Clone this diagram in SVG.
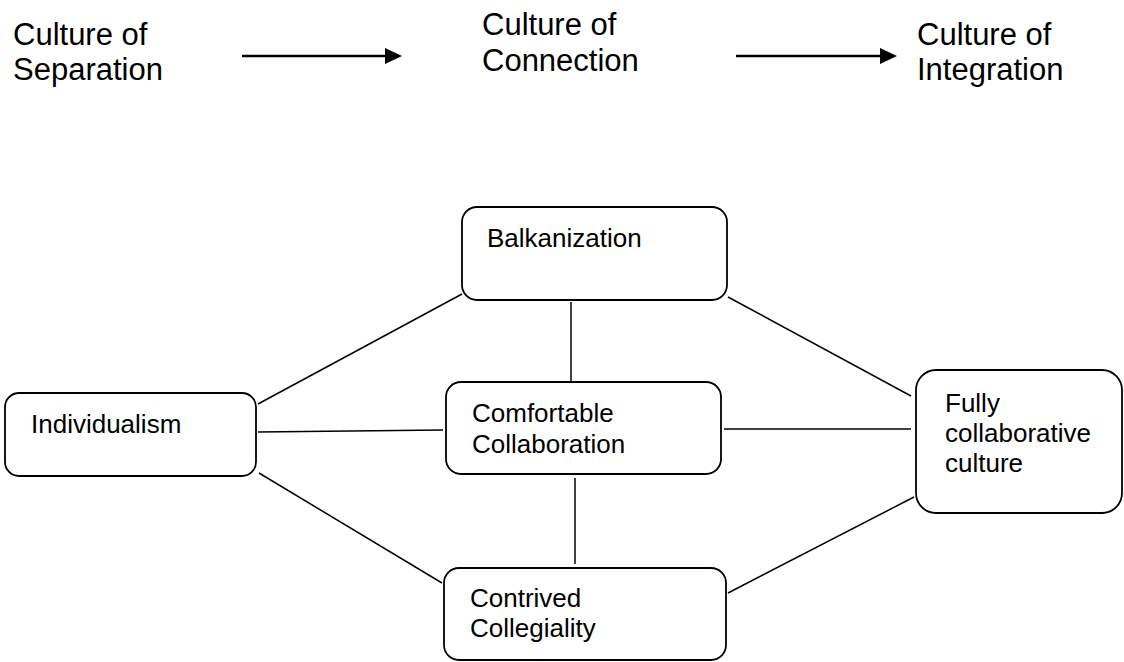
<svg xmlns="http://www.w3.org/2000/svg" width="1124" height="662" viewBox="0 0 1124 662">
<style>
.t{font-family:"Liberation Sans",Arial,sans-serif;fill:#000}
.h{font-size:31px}
.b{font-size:26px}
.box{fill:#fff;stroke:#000;stroke-width:1.8}
.ln{stroke:#000;stroke-width:1.5;fill:none}
.ar{stroke:#000;stroke-width:2.6;fill:none}
</style>
<g id="headers">
<g id="h-separation"><text class="t h" x="13" y="45">Culture of</text><text class="t h" x="13" y="80">Separation</text></g>
<g id="h-connection"><text class="t h" x="482" y="35">Culture of</text><text class="t h" x="482" y="71">Connection</text></g>
<g id="h-integration"><text class="t h" x="917" y="45">Culture of</text><text class="t h" x="917" y="80">Integration</text></g>
</g>
<g id="arrows">
<line class="ar" x1="242" y1="56" x2="387" y2="56"/>
<polygon points="385,48 402,56 385,64"/>
<line class="ar" x1="736" y1="56" x2="882" y2="56"/>
<polygon points="880,48 897,56 880,64"/>
</g>
<g id="connectors">
<line class="ln" x1="258" y1="404" x2="462" y2="294"/>
<line class="ln" x1="258" y1="432" x2="443" y2="430"/>
<line class="ln" x1="259" y1="473" x2="442" y2="583"/>
<line class="ln" x1="571" y1="302" x2="571" y2="381"/>
<line class="ln" x1="728" y1="297" x2="911" y2="396"/>
<line class="ln" x1="724" y1="429" x2="911" y2="429"/>
<line class="ln" x1="575" y1="478" x2="575" y2="564"/>
<line class="ln" x1="728" y1="593" x2="914" y2="497"/>
</g>
<g id="balkanization">
<rect class="box" x="462" y="207" width="265" height="93" rx="15"/>
<text class="t b" x="487" y="247">Balkanization</text>
</g>
<g id="individualism">
<rect class="box" x="5" y="393" width="251" height="83" rx="14"/>
<text class="t b" x="31" y="433">Individualism</text>
</g>
<g id="comfortable">
<rect class="box" x="446" y="382" width="275" height="92" rx="15"/>
<text class="t b" x="472" y="422">Comfortable</text>
<text class="t b" x="472" y="453">Collaboration</text>
</g>
<g id="fully">
<rect class="box" x="916" y="370" width="206" height="143" rx="20"/>
<text class="t b" x="945" y="412">Fully</text>
<text class="t b" x="945" y="442">collaborative</text>
<text class="t b" x="945" y="472">culture</text>
</g>
<g id="contrived">
<rect class="box" x="444" y="568" width="282" height="92" rx="15"/>
<text class="t b" x="470" y="607">Contrived</text>
<text class="t b" x="470" y="637">Collegiality</text>
</g>
</svg>
